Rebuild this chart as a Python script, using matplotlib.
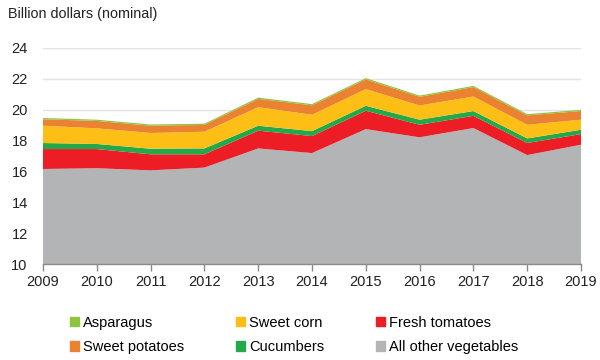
import matplotlib
matplotlib.use("Agg")
import matplotlib.pyplot as plt
from matplotlib.patches import Patch

plt.rcParams['font.family'] = ['Liberation Sans', 'DejaVu Sans']

years = [2009, 2010, 2011, 2012, 2013, 2014, 2015, 2016, 2017, 2018, 2019]
other = [16.15, 16.20, 16.06, 16.24, 17.48, 17.18, 18.73, 18.20, 18.80, 17.05, 17.72]
tomatoes = [1.29, 1.24, 1.04, 0.86, 1.15, 1.10, 1.19, 0.81, 0.79, 0.78, 0.69]
cucumbers = [0.39, 0.33, 0.36, 0.38, 0.32, 0.32, 0.32, 0.33, 0.31, 0.30, 0.28]
sweet_corn = [1.12, 1.01, 1.02, 1.08, 1.20, 1.06, 1.08, 0.92, 0.94, 0.88, 0.65]
sweet_potatoes = [0.42, 0.48, 0.47, 0.44, 0.54, 0.61, 0.63, 0.56, 0.61, 0.61, 0.56]
asparagus = [0.08, 0.08, 0.08, 0.08, 0.08, 0.08, 0.08, 0.08, 0.08, 0.08, 0.08]

c_other = '#B3B4B6'
c_tom = '#EC1D25'
c_cuc = '#23A94A'
c_corn = '#FDBF16'
c_pot = '#EA8231'
c_asp = '#8CC63F'

fig = plt.figure(figsize=(6, 3.6), dpi=100)
ax = fig.add_axes([43/600, 1 - 264/360, 538/600, (264 - 47.7)/360])

ax.stackplot(years, other, tomatoes, cucumbers, sweet_corn, sweet_potatoes, asparagus,
             colors=[c_other, c_tom, c_cuc, c_corn, c_pot, c_asp], linewidth=0, zorder=2)

ax.set_xlim(2009, 2019)
ax.set_ylim(10, 24)
ax.set_yticks([10, 12, 14, 16, 18, 20, 22, 24])
ax.set_xticks(years)
ax.yaxis.grid(True, color='#E3E3E3', linewidth=1, zorder=0)
ax.set_axisbelow(True)
for s in ['left', 'right', 'top']:
    ax.spines[s].set_visible(False)
ax.spines['bottom'].set_color('#8A8A8A')
ax.spines['bottom'].set_linewidth(1)
ax.spines['bottom'].set_zorder(3)
ax.tick_params(axis='y', length=0, labelsize=10.5, pad=11, colors='#222222')
ax.tick_params(axis='x', length=5, width=1, color='#8A8A8A', labelsize=10.5, pad=3, labelcolor='#222222')

fig.text(8/600, 1 - 14/360, 'Billion dollars (nominal)', fontsize=10.4, va='center', ha='left', color='#222222')

handles = [Patch(color=c_asp, label='Asparagus'),
           Patch(color=c_pot, label='Sweet potatoes'),
           Patch(color=c_corn, label='Sweet corn'),
           Patch(color=c_cuc, label='Cucumbers'),
           Patch(color=c_tom, label='Fresh tomatoes'),
           Patch(color=c_other, label='All other vegetables')]
fig.legend(handles=handles, ncol=3, loc='upper left', bbox_to_anchor=(64/600, 1 - 310/360),
           frameon=False, fontsize=10.5, handlelength=0.6, handleheight=0.6,
           handletextpad=0.3, columnspacing=3.55, labelspacing=0.7, borderaxespad=0)

fig.savefig('out.png', dpi=100)
